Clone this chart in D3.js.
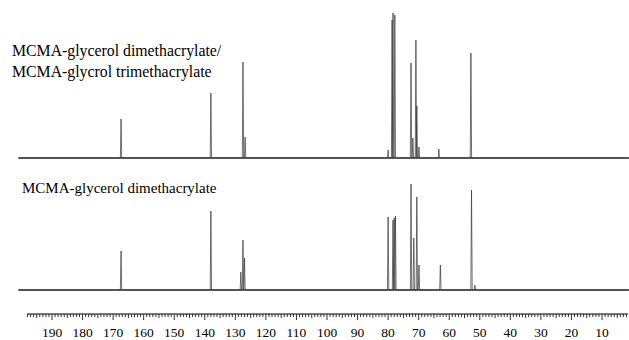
<!DOCTYPE html>
<html>
<head>
<meta charset="utf-8">
<script src="https://d3js.org/d3.v7.min.js"></script>
<style>
  body { margin: 0; background: #fff; }
</style>
</head>
<body>
<svg id="chart" width="629" height="340" font-family="'Times New Roman', 'Liberation Serif', serif"></svg>
<script>
// peak positions (ppm) and intensities (arb. units)
var topShifts   = [167.4, 138.0, 127.5, 126.8, 80.0, 78.7, 78.4, 77.8, 72.5, 71.9, 70.9, 70.6, 69.9, 63.4, 52.9];
var topHeights  = [39, 65, 96, 21, 8, 138, 145, 143, 95, 20, 118, 52, 11, 9, 105];

var botShifts   = [167.4, 138.0, 128.2, 127.5, 127.0, 80.0, 78.4, 78.0, 77.6, 72.5, 71.6, 70.6, 69.9, 62.9, 52.7, 51.6];
var botHeights  = [39, 79, 18, 50, 32, 73, 70, 72, 74, 106, 52, 93, 25, 25, 100, 5];

var tickLabels = [190, 180, 170, 160, 150, 140, 130, 120, 110, 100, 90, 80, 70, 60, 50, 40, 30, 20, 10];
var topTitle = ["MCMA-glycerol dimethacrylate/", "MCMA-glycrol trimethacrylate"];
var botTitle = "MCMA-glycerol dimethacrylate";

var svg = d3.select("#chart");

// ppm axis runs right to left
var x = d3.scaleLinear().domain([190, 10]).range([52, 602]);
var axisLeftPpm = 198.2, axisRightPpm = 1.5;
var specLeftPpm = 201, specRightPpm = 1.2;

var halfW = 0.22; // half base width of a peak, ppm

function spectrum(shifts, heights, base) {
  var y = d3.scaleLinear().domain([0, 150]).range([base, base - 150]);
  var pk = shifts.map(function(s, i) { return {s: s, h: heights[i]}; })
    .sort(function(a, b) { return b.s - a.s; });
  var pts = [[specLeftPpm, 0]];
  pk.forEach(function(p) {
    pts.push([p.s + halfW, 0], [p.s, p.h], [p.s - halfW, 0]);
  });
  pts.push([specRightPpm, 0]);

  var line = d3.line().x(function(d) { return x(d[0]); }).y(function(d) { return y(d[1]); });

  // baseline drawn a bit heavier to stand in for the noise
  svg.append("path")
    .attr("d", line([[specLeftPpm, 0], [specRightPpm, 0]]))
    .attr("fill", "none").attr("stroke", "#333").attr("stroke-width", 1.6);

  svg.append("path")
    .attr("d", line(pts))
    .attr("fill", "none").attr("stroke", "#333").attr("stroke-width", 0.7);
}

spectrum(topShifts, topHeights, 158);
spectrum(botShifts, botHeights, 290);

// titles
svg.append("text").attr("x", 12).attr("y", 56).style("font-size", "15.8px").text(topTitle[0]);
svg.append("text").attr("x", 12).attr("y", 77).style("font-size", "15.8px").text(topTitle[1]);
svg.append("text").attr("x", 22).attr("y", 193).style("font-size", "15px").text(botTitle);

// axis
var axisY = 314;
var g = svg.append("g");
g.append("line")
  .attr("x1", x(axisLeftPpm)).attr("x2", x(axisRightPpm))
  .attr("y1", axisY).attr("y2", axisY)
  .attr("stroke", "#000").attr("stroke-width", 1);

var minor = d3.range(2, 199, 1);
g.selectAll("line.tk").data(minor).enter().append("line")
  .attr("class", "tk")
  .attr("x1", function(d) { return x(d); }).attr("x2", function(d) { return x(d); })
  .attr("y1", axisY)
  .attr("y2", function(d) { return axisY + (d % 10 === 0 ? 6 : d % 5 === 0 ? 4 : 3); })
  .attr("stroke", "#000").attr("stroke-width", 0.8);

g.selectAll("text.lb").data(tickLabels).enter().append("text")
  .attr("class", "lb")
  .attr("x", function(d) { return x(d); })
  .attr("y", 337)
  .attr("text-anchor", "middle")
  .style("font-size", "13.5px")
  .text(function(d) { return d; });
</script>
</body>
</html>
